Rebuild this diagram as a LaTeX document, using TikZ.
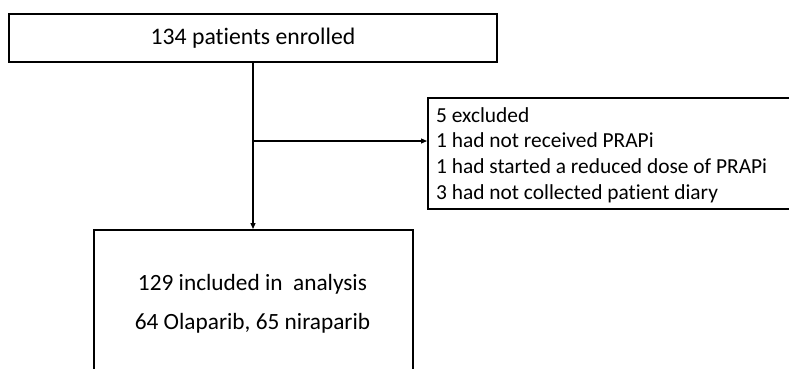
\documentclass[tikz,border=0pt]{standalone}
\usepackage{fontspec}
\setmainfont[Ligatures=NoCommon]{Carlito}
\usetikzlibrary{arrows.meta}
\begin{document}
\begin{tikzpicture}[x=1pt,y=-1pt,
  box/.style={draw=black, line width=1.6pt, rectangle, inner sep=0pt},
  conn/.style={draw=black, line width=1.2pt, -{Triangle[length=6pt,width=5pt]}},
  bigtxt/.style={font=\fontsize{23.3}{38.5}\selectfont, align=center, inner sep=0pt},
  smalltxt/.style={font=\fontsize{21.4}{25.6}\selectfont, align=left, inner sep=0pt}]
\useasboundingbox (0,0) rectangle (789,368);
\clip (0,0) rectangle (789,368);
\node[box, minimum width=488pt, minimum height=48pt, font=\fontsize{23.7}{28}\selectfont] (enr) at (253,38) {134 patients enrolled};
\node[box, minimum width=400pt, minimum height=111pt, anchor=north west] (exc) at (427,97) {};
\node[smalltxt, anchor=base west] (exctxt) at (436,199) {5 excluded\\1 had not received PRAPi\\1 had started a reduced dose of PRAPi\\3 had not collected patient diary};
\node[box, minimum width=319pt, minimum height=200pt, anchor=north west] (inc) at (93,229) {};
\node[bigtxt, anchor=base] (inctxt) at (252.5,329) {129 included in\ \ analysis\\64 Olaparib, 65 niraparib};
\coordinate (j) at (enr.south |- 0,141);
\draw[conn] (enr.south) -- (inc.north -| enr.south);
\draw[conn] (j) -- (j -| exc.west);
\end{tikzpicture}
\end{document}
